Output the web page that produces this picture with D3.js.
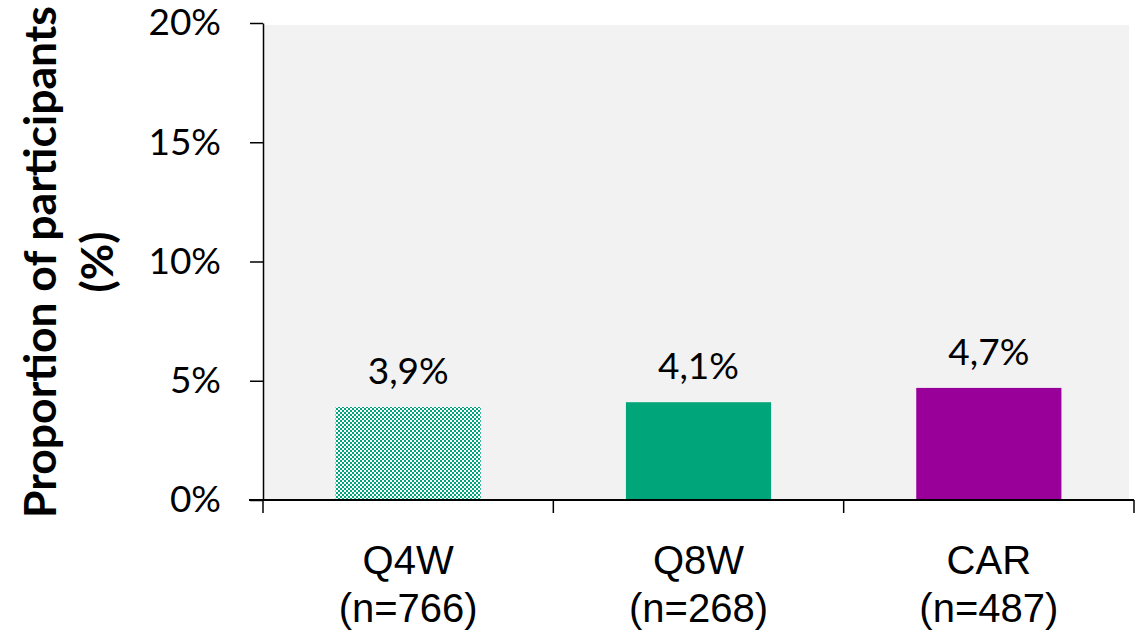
<!DOCTYPE html>
<html>
<head>
<meta charset="utf-8">
<script src="https://cdn.jsdelivr.net/npm/d3@7"></script>
<style>
  html, body { margin: 0; padding: 0; background: #fff; }
  svg { display: block; }
</style>
</head>
<body>
<svg id="chart" width="1145" height="634"></svg>
<script>
// Treatment arms, sample sizes and proportion of participants (fractions)
const categories = ["Q4W", "Q8W", "CAR"];
const sampleSizes = ["(n=766)", "(n=268)", "(n=487)"];
const proportions = [0.039, 0.041, 0.047];
const yTicks = [0, 0.05, 0.10, 0.15, 0.20];

const svg = d3.select("#chart");

const plotLeft = 263, plotRight = 1134, plotTop = 23, plotBottom = 500;

const x = d3.scaleBand()
  .domain(categories)
  .range([plotLeft, plotRight])
  .paddingInner(0.5)
  .paddingOuter(0.25);

const y = d3.scaleLinear().domain([0, 0.2]).range([plotBottom, plotTop]);

const commaLocale = d3.formatLocale({ decimal: ",", thousands: ".", grouping: [3], currency: ["", "%"] });
const tickFmt = d3.format(".0%");
const valueFmt = commaLocale.format(".1%");

const numFont = "Lato, 'Open Sans', sans-serif";
const catFont = "'Liberation Sans', Arial, sans-serif";

// Hatched fill for the first arm: fine green/white checkerboard
const defs = svg.append("defs");
const pat = defs.append("pattern")
  .attr("id", "checker")
  .attr("patternUnits", "userSpaceOnUse")
  .attr("width", 4).attr("height", 4);
pat.append("rect").attr("width", 4).attr("height", 4).attr("fill", "#ffffff");
pat.append("rect").attr("width", 2).attr("height", 2).attr("fill", "#00A67A");
pat.append("rect").attr("x", 2).attr("y", 2).attr("width", 2).attr("height", 2).attr("fill", "#00A67A");

const fills = ["url(#checker)", "#00A67A", "#990099"];

// Plot area background
svg.append("rect")
  .attr("x", plotLeft).attr("y", y(0.2) + 2)
  .attr("width", 1129 - plotLeft).attr("height", plotBottom - y(0.2) - 2)
  .attr("fill", "#F2F2F2");

// Bars
svg.append("g").selectAll("rect")
  .data(categories)
  .join("rect")
  .attr("x", d => x(d))
  .attr("y", (d, i) => y(proportions[i]))
  .attr("width", x.bandwidth())
  .attr("height", (d, i) => y(0) - y(proportions[i]))
  .attr("fill", (d, i) => fills[i]);

// Value labels above bars
svg.append("g").selectAll("text")
  .data(categories)
  .join("text")
  .attr("x", d => x(d) + x.bandwidth() / 2)
  .attr("y", (d, i) => y(proportions[i]) - 23)
  .attr("text-anchor", "middle")
  .attr("font-family", numFont)
  .attr("font-size", 37)
  .attr("fill", "#000")
  .text((d, i) => valueFmt(proportions[i]));

// Y axis
const yAxis = svg.append("g")
  .attr("transform", `translate(${plotLeft},0)`)
  .call(d3.axisLeft(y).tickValues(yTicks).tickFormat(tickFmt).tickSize(13).tickPadding(29).tickSizeOuter(0));
yAxis.select(".domain").attr("stroke", "#000").attr("stroke-width", 1.5);
yAxis.selectAll(".tick line").attr("stroke", "#000").attr("stroke-width", 1.5);
yAxis.selectAll(".tick text")
  .attr("font-family", numFont)
  .attr("font-size", 37)
  .attr("fill", "#000");

// X axis: baseline with separators between categories
const xg = svg.append("g");
xg.append("line")
  .attr("x1", 249).attr("x2", plotRight)
  .attr("y1", y(0)).attr("y2", y(0))
  .attr("stroke", "#000").attr("stroke-width", 2.2);
const step = x.step();
const seps = d3.range(categories.length + 1).map(i => x(categories[0]) - step * x.paddingInner() / 2 + i * step);
xg.selectAll("line.sep")
  .data(seps)
  .join("line")
  .attr("class", "sep")
  .attr("x1", d => d).attr("x2", d => d)
  .attr("y1", y(0)).attr("y2", y(0) + 13)
  .attr("stroke", "#000").attr("stroke-width", 1.5);

// Category labels (two lines)
const cl = xg.selectAll("text.cat")
  .data(categories)
  .join("text")
  .attr("class", "cat")
  .attr("text-anchor", "middle")
  .attr("font-family", catFont)
  .attr("font-size", 40)
  .attr("fill", "#000");
cl.append("tspan")
  .attr("x", d => x(d) + x.bandwidth() / 2)
  .attr("y", 574)
  .text(d => d);
cl.append("tspan")
  .attr("x", d => x(d) + x.bandwidth() / 2)
  .attr("y", 622)
  .text((d, i) => sampleSizes[i]);

// Y axis title, two lines rotated
const titleY = 262;
const t1 = svg.append("text")
  .attr("transform", `translate(56,${titleY}) rotate(-90)`)
  .attr("text-anchor", "middle")
  .attr("font-family", numFont)
  .attr("font-weight", "bold")
  .attr("font-size", 40)
  .attr("fill", "#000")
  .text("Proportion of participants");
const t2 = svg.append("text")
  .attr("transform", `translate(113,${titleY}) rotate(-90)`)
  .attr("text-anchor", "middle")
  .attr("font-family", numFont)
  .attr("font-weight", "bold")
  .attr("font-size", 40)
  .attr("fill", "#000")
  .text("(%)");
// Fit the long title line to span from the chart bottom to the top edge
const target = 512;
const len = t1.node().getComputedTextLength();
const fs = 40 * target / len;
t1.attr("font-size", fs);
t2.attr("font-size", fs);
</script>
</body>
</html>
